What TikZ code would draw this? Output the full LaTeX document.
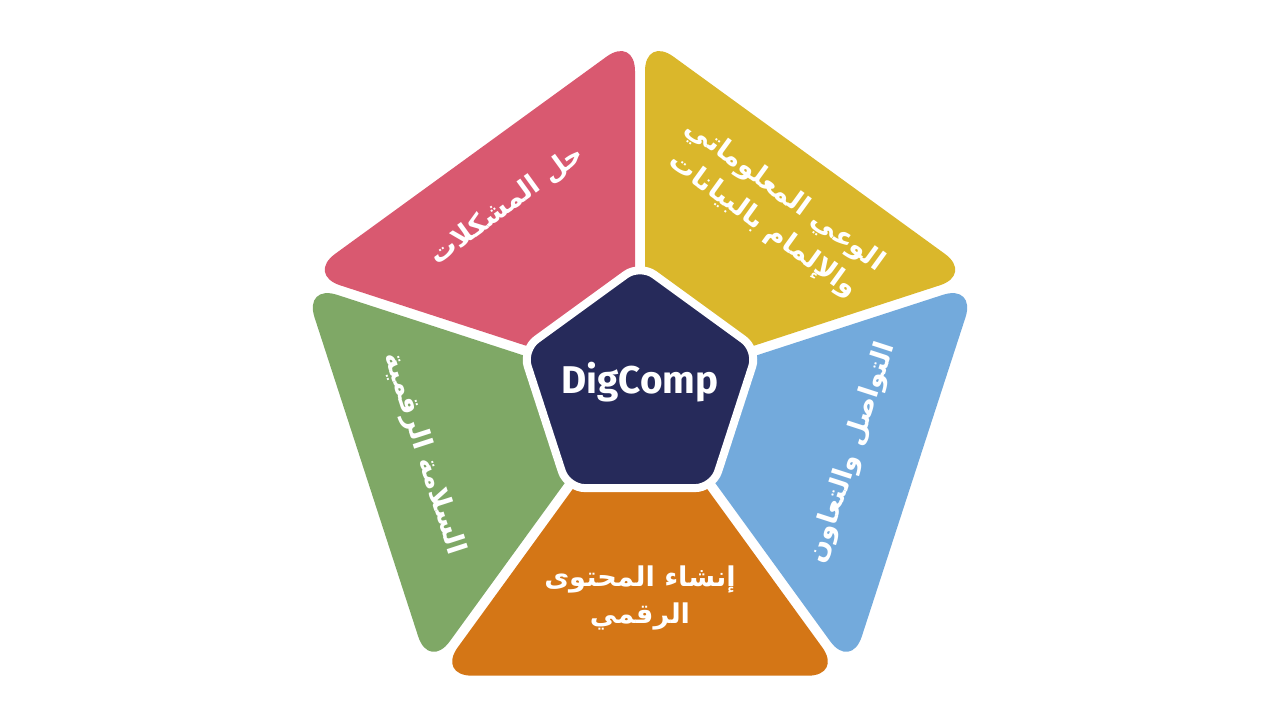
\documentclass[tikz,border=0pt]{standalone}
\usepackage{fontspec}
\setmainfont{Fira Sans}
\newfontfamily\arabicfont[Script=Arabic]{DejaVu Sans}
\TeXXeTstate=1
\usetikzlibrary{calc,shapes.geometric}
\definecolor{segred}{RGB}{217,89,112}
\definecolor{segyellow}{RGB}{218,183,43}
\definecolor{segblue}{RGB}{115,170,220}
\definecolor{segorange}{RGB}{212,118,22}
\definecolor{seggreen}{RGB}{127,168,102}
\definecolor{corenavy}{RGB}{38,42,90}
\tikzset{
  seg/.style={fill=#1,rounded corners=20pt},
  seglabel/.style={text=white,align=center,font=\arabicfont\bfseries\fontsize{15.5}{21}\selectfont},
}

\begin{document}
\begin{tikzpicture}[x=0.02cm,y=0.02cm]
    \useasboundingbox (-640,-332) rectangle (640,388);
    \def\R{352}
    \def\r{60}
    \def\g{5}
    % five outer pieces
    \foreach \a/\c in {90/segred,162/seggreen,234/segorange,306/segblue,18/segyellow}{
        \pgfmathsetmacro\b{\a+72}
        \fill[seg=\c] ($(\a:\R)+(\a+90:\g)$) -- ($(\b:\R)+(\b-90:\g)$)
            -- ($(\b:\r)+(\b-90:\g)$) -- ($(\a:\r)+(\a+90:\g)$) -- cycle;
    }
    \node[draw=white,line width=0.16cm,fill=corenavy,regular polygon,regular polygon sides=5,
        inner sep=0pt,minimum size=4.95cm,rounded corners=10pt] (core) at (0,0) {};
    \node[text=white,font=\bfseries\fontsize{22}{26}\selectfont] (title) at ($(core.center)+(0,6)$) {DigComp};
    \node[seglabel,rotate=36] (solve) at (126:226) {\beginR حل المشكلات\endR};
    \node[seglabel,rotate=-36] (info) at (53:222) {\beginR الوعي المعلوماتي\endR\\\beginR والإلمام بالبيانات\endR};
    \node[seglabel,rotate=72] (comm) at (343:222) {\beginR التواصل والتعاون\endR};
    \node[seglabel,rotate=-72] (safe) at (197:226) {\beginR السلامة الرقمية\endR};
    \node[seglabel] (create) at (270:210) {\beginR إنشاء المحتوى\endR\\\beginR الرقمي\endR};
\end{tikzpicture}
\end{document}
